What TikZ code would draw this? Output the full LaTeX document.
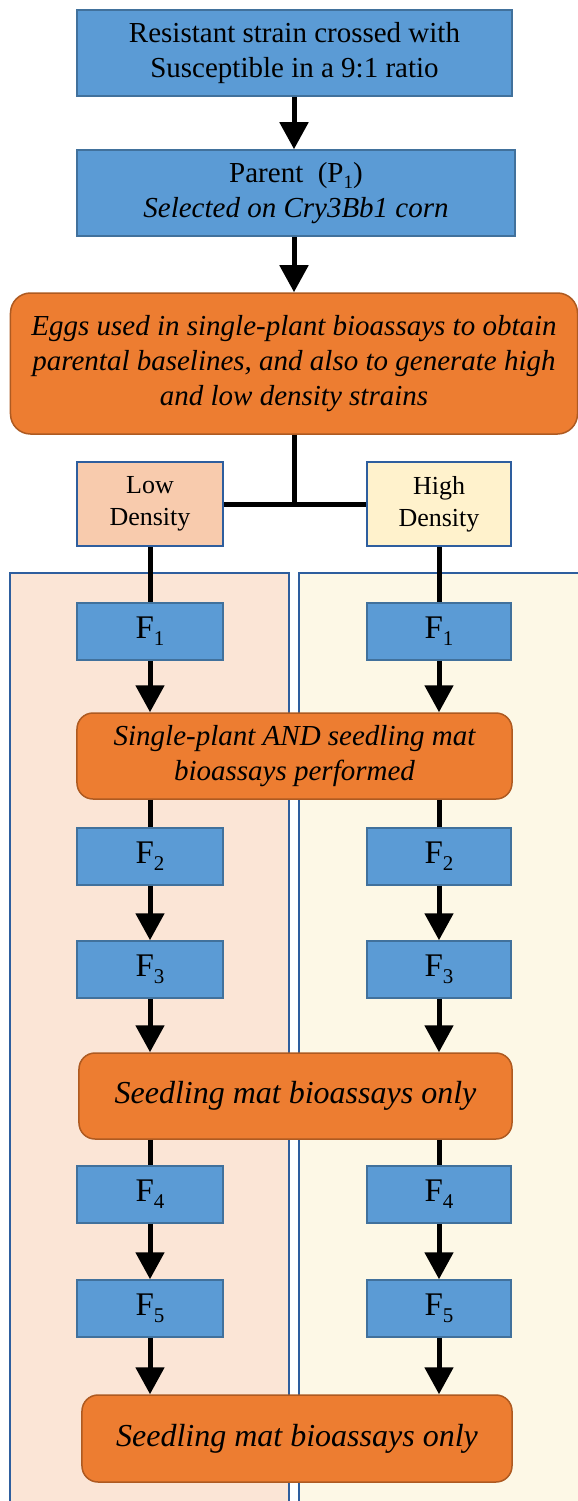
\documentclass[tikz,border=0pt]{standalone}
\usepackage{fontspec}
\setmainfont{Liberation Serif}
\usetikzlibrary{arrows.meta,positioning}
\definecolor{bluefill}{HTML}{5B9BD5}
\definecolor{bluebd}{HTML}{41719C}
\definecolor{panelbd}{HTML}{2E5E9E}
\definecolor{orfill}{HTML}{ED7D31}
\definecolor{orbd}{HTML}{AE5A21}
\definecolor{lowfill}{HTML}{F8CBAD}
\definecolor{highfill}{HTML}{FFF2CC}
\definecolor{lowpanel}{HTML}{FBE5D6}
\definecolor{highpanel}{HTML}{FDF8E6}
\newcommand\fsA{\fontsize{29bp}{35bp}\selectfont}
\newcommand\fsB{\fontsize{32bp}{36bp}\selectfont}
\newcommand\fsD{\fontsize{26bp}{32bp}\selectfont}
\newcommand\fsF{\fontsize{33bp}{36bp}\selectfont}
\newcommand\Fsub[1]{F\raisebox{-0.22em}{\fontsize{21bp}{21bp}\selectfont #1}}
\begin{document}
\begin{tikzpicture}[x=1bp,y=-1bp,
  bluebox/.style={draw=bluebd, fill=bluefill, line width=1.5bp, inner sep=0pt, align=center},
  genbox/.style={bluebox, minimum width=146bp, minimum height=57bp, font=\fsF},
  orbox/.style={draw=orbd, fill=orfill, line width=1.5bp, rounded corners=16bp, inner sep=0pt, align=center, font=\fsA\itshape},
  densbox/.style={draw=panelbd, line width=2bp, minimum width=146bp, minimum height=84bp, inner sep=0pt, align=center, font=\fsD},
  panel/.style={draw=panelbd, line width=2bp},
  arr/.style={line width=5bp, -{Triangle[width=28bp,length=27bp]}},
  link/.style={line width=5bp}
]
\useasboundingbox (0,0) rectangle (578,1501);
\clip (0,0) rectangle (578,1501);
% panels
\path[panel, fill=lowpanel] (10,573) rectangle (289,1530);
\path[panel, fill=highpanel] (299,573) rectangle (600,1530);
% top nodes
\node[bluebox, minimum width=435bp, minimum height=86bp, font=\fsA] (cross) at (294.5,53) {Resistant strain crossed with\\Susceptible in a 9:1 ratio};
\node[bluebox, minimum width=438bp, minimum height=86bp, font=\fsA] (parent) at (296,193) {Parent\ \ (P\raisebox{-0.2em}{\fontsize{19bp}{19bp}\selectfont 1})\\\itshape Selected on Cry3Bb1 corn};
\node[orbox, rounded corners=20bp, minimum width=567bp, minimum height=141bp] (eggs) at (294,363.5) {Eggs used in single-plant bioassays to obtain\\parental baselines, and also to generate high\\and low density strains};
\node[densbox, fill=lowfill] (low) at (150,504) {Low\\Density};
\node[densbox, fill=highfill, minimum width=144bp] (high) at (439,504) {High\\Density};
% generations
\node[genbox] (f1l) at (150,631.5) {\Fsub{1}};
\node[genbox, minimum width=144bp] (f1r) at (439,631.5) {\Fsub{1}};
\node[orbox, minimum width=435bp, minimum height=86bp] (sp) at (294.5,756) {Single-plant AND seedling mat\\bioassays performed};
\node[genbox] (f2l) at (150,856.5) {\Fsub{2}};
\node[genbox, minimum width=144bp] (f2r) at (439,856.5) {\Fsub{2}};
\node[genbox] (f3l) at (150,969.5) {\Fsub{3}};
\node[genbox, minimum width=144bp] (f3r) at (439,969.5) {\Fsub{3}};
\node[orbox, minimum width=433bp, minimum height=86bp, font=\fsB\itshape] (sm1) at (295.5,1096) {Seedling mat bioassays only};
\node[genbox] (f4l) at (150,1194.5) {\Fsub{4}};
\node[genbox, minimum width=144bp] (f4r) at (439,1194.5) {\Fsub{4}};
\node[genbox] (f5l) at (150,1308.5) {\Fsub{5}};
\node[genbox, minimum width=144bp] (f5r) at (439,1308.5) {\Fsub{5}};
\node[orbox, minimum width=430bp, minimum height=87bp, font=\fsB\itshape] (sm2) at (297,1438.5) {Seedling mat bioassays only};
% connectors
\draw[arr] (cross.south -| eggs.north) -- (parent.north -| eggs.north);
\draw[arr] (parent.south -| eggs.north) -- (eggs.north);
\draw[link] (eggs.south) -- (eggs.south |- low.east);
\draw[link] (low.east) -- (high.west);
\draw[link] (low.south) -- (f1l.north);
\draw[link] (high.south) -- (f1r.north);
\foreach \c in {l,r}{
  \draw[arr] (f1\c.south) -- (f1\c.south |- sp.north);
  \draw[link] (f1\c.south |- sp.south) -- (f2\c.north);
  \draw[arr] (f2\c.south) -- (f3\c.north);
  \draw[arr] (f3\c.south) -- (f3\c.south |- sm1.north);
  \draw[link] (f3\c.south |- sm1.south) -- (f4\c.north);
  \draw[arr] (f4\c.south) -- (f5\c.north);
  \draw[arr] (f5\c.south) -- (f5\c.south |- sm2.north);
}
\end{tikzpicture}
\end{document}
